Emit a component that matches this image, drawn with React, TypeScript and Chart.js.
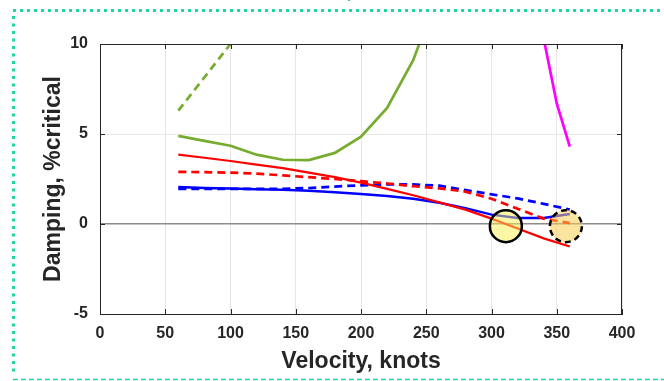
import React, { useEffect, useRef } from "react";
import { Chart, registerables } from "chart.js";

Chart.register(...registerables);

// ---- data ----
const velocity = [60, 80, 100, 120, 140, 160, 180, 200, 220, 240, 260, 280, 300, 320, 340, 360];
const greenSolid = [4.9, 4.62, 4.35, 3.85, 3.57, 3.55, 3.95, 4.85, 6.45, 9.1, 13, null, null, null, null, null];
const greenDashed = [6.3, 8.15, 10.0, 11.9, null, null, null, null, null, null, null, null, null, null, null, null];
const redSolid = [3.85, 3.68, 3.5, 3.3, 3.1, 2.85, 2.6, 2.3, 1.95, 1.6, 1.2, 0.8, 0.3, -0.25, -0.8, -1.25];
const redDashed = [2.9, 2.88, 2.85, 2.8, 2.7, 2.6, 2.5, 2.38, 2.25, 2.1, 1.98, 1.8, 1.4, 0.85, 0.3, 0.05];
const blueSolid = [2.05, 2.0, 1.97, 1.93, 1.9, 1.85, 1.77, 1.67, 1.55, 1.4, 1.18, 0.88, 0.52, 0.33, 0.33, 0.55];
const blueDashed = [1.95, 1.95, 1.95, 1.95, 1.95, 2.0, 2.08, 2.15, 2.2, 2.2, 2.13, 1.88, 1.65, 1.42, 1.12, 0.8];
const magentaVelocity = [330, 340, 350, 360];
const magentaDamping = [14, 10.3, 6.7, 4.3];
const flutterVelocity = [311, 357];
const flutterDamping = [-0.12, -0.12];
const xTicks = [0, 50, 100, 150, 200, 250, 300, 350, 400];
const yTicks = [-5, 0, 5, 10];

const FONT = "'Liberation Sans', Arial, Helvetica, sans-serif";
const TEAL = "#21d4a4";

const pts = (xs: number[], ys: (number | null)[]) =>
  xs.map((x, i) => ({ x, y: ys[i] })).filter((p) => p.y !== null);

const framePlugin = {
  id: "frame",
  beforeDraw(chart: any) {
    const ctx = chart.ctx;
    ctx.save();
    ctx.fillStyle = "#ffffff";
    ctx.fillRect(0, 0, chart.width, chart.height);
    ctx.fillStyle = TEAL;
    // top dotted
    for (let x = 13; x < chart.width; x += 7) ctx.fillRect(x, 9, 3, 3);
    // left dotted
    for (let y = 16; y < 376; y += 7.5) ctx.fillRect(12, y, 3, 3);
    // tiny mark at top
    ctx.fillRect(348, 0, 2, 1);
    // bottom dashed
    ctx.strokeStyle = TEAL;
    ctx.lineWidth = 1.5;
    ctx.setLineDash([5, 3]);
    ctx.beginPath();
    ctx.moveTo(13, 379.5);
    ctx.lineTo(chart.width, 379.5);
    ctx.stroke();
    ctx.restore();
  },
  afterDatasetsDraw(chart: any) {
    const ctx = chart.ctx;
    const xs = chart.scales.x;
    const ys = chart.scales.y;
    const { left, right, top, bottom } = chart.chartArea;
    ctx.save();
    // flutter circles
    flutterVelocity.forEach((v, i) => {
      const cx = xs.getPixelForValue(v);
      const cy = ys.getPixelForValue(flutterDamping[i]);
      ctx.beginPath();
      ctx.arc(cx, cy, 16, 0, Math.PI * 2);
      ctx.fillStyle = i === 0 ? "rgba(250,240,80,0.5)" : "rgba(247,205,80,0.55)";
      ctx.fill();
      ctx.lineWidth = 2.5;
      ctx.strokeStyle = "#000000";
      ctx.setLineDash(i === 0 ? [] : [6, 4]);
      ctx.stroke();
    });
    ctx.setLineDash([]);
    // box top/right
    ctx.strokeStyle = "#262626";
    ctx.lineWidth = 1;
    ctx.beginPath();
    ctx.moveTo(left, top + 0.5);
    ctx.lineTo(right, top + 0.5);
    ctx.moveTo(right - 0.5, top);
    ctx.lineTo(right - 0.5, bottom);
    ctx.stroke();
    // inward ticks
    ctx.beginPath();
    xTicks.forEach((t) => {
      const px = Math.round(xs.getPixelForValue(t)) + 0.5;
      ctx.moveTo(px, bottom);
      ctx.lineTo(px, bottom - 5);
      ctx.moveTo(px, top);
      ctx.lineTo(px, top + 5);
    });
    yTicks.forEach((t) => {
      const py = Math.round(ys.getPixelForValue(t)) + 0.5;
      ctx.moveTo(left, py);
      ctx.lineTo(left + 5, py);
      ctx.moveTo(right, py);
      ctx.lineTo(right - 5, py);
    });
    ctx.stroke();
    ctx.restore();
  },
};

export default function App() {
  const ref = useRef<HTMLCanvasElement | null>(null);
  useEffect(() => {
    if (!ref.current) return;
    const line = (data: any[], color: string, dashed: boolean, width = 2.5) => ({
      data,
      borderColor: color,
      backgroundColor: color,
      borderWidth: width,
      borderDash: dashed ? [8, 5] : [],
      pointRadius: 0,
      tension: 0,
      fill: false,
      showLine: true,
    });
    const chart = new Chart(ref.current, {
      type: "scatter",
      data: {
        datasets: [
          line(pts(velocity, greenSolid), "#77ac30", false, 2.7),
          line(pts(velocity, greenDashed), "#77ac30", true, 2.7),
          line(pts(velocity, redSolid), "#ff0000", false, 2.2),
          line(pts(velocity, redDashed), "#ff0000", true, 2.7),
          line(pts(velocity, blueSolid), "#0000ff", false, 2.5),
          line(pts(velocity, blueDashed), "#0000ff", true, 2.7),
          line(pts(magentaVelocity, magentaDamping), "#ff00ff", false, 2.7),
        ],
      },
      options: {
        animation: false,
        responsive: false,
        devicePixelRatio: 1,
        layout: { padding: { left: 0, top: 44, right: 42, bottom: 0 } },
        plugins: { legend: { display: false }, tooltip: { enabled: false } },
        scales: {
          x: {
            type: "linear",
            min: 0,
            max: 400,
            afterFit: (s: any) => {
              s.height = 67;
            },
            afterBuildTicks: (s: any) => {
              s.ticks = xTicks.map((v) => ({ value: v }));
            },
            ticks: {
              padding: 10,
              color: "#262626",
              font: { family: FONT, size: 16, weight: "bold" },
              maxRotation: 0,
            },
            grid: { color: "#e6e6e6", lineWidth: 1, drawTicks: false },
            border: { display: true, color: "#262626", width: 1 },
            title: {
              display: true,
              text: "Velocity, knots",
              color: "#262626",
              font: { family: FONT, size: 23, weight: "bold" },
              padding: { top: 0, bottom: 6 },
            },
          },
          y: {
            type: "linear",
            min: -5,
            max: 10,
            afterFit: (s: any) => {
              s.width = 100;
            },
            afterBuildTicks: (s: any) => {
              s.ticks = yTicks.map((v) => ({ value: v }));
            },
            ticks: {
              padding: 12,
              color: "#262626",
              font: { family: FONT, size: 16, weight: "bold" },
            },
            grid: {
              color: (c: any) => (c.tick && c.tick.value === 0 ? "#8c8c8c" : "#e6e6e6"),
              lineWidth: (c: any) => (c.tick && c.tick.value === 0 ? 1.5 : 1),
              drawTicks: false,
            },
            border: { display: true, color: "#262626", width: 1 },
            title: {
              display: true,
              text: "Damping, %critical",
              color: "#262626",
              font: { family: FONT, size: 23, weight: "bold" },
              padding: { top: 40, bottom: 0 },
            },
          },
        },
      },
      plugins: [framePlugin],
    } as any);
    return () => chart.destroy();
  }, []);
  return (
    <div style={{ position: "absolute", left: 0, top: 0, width: 664, height: 381 }}>
      <canvas ref={ref} width={664} height={381} style={{ display: "block" }} />
    </div>
  );
}
